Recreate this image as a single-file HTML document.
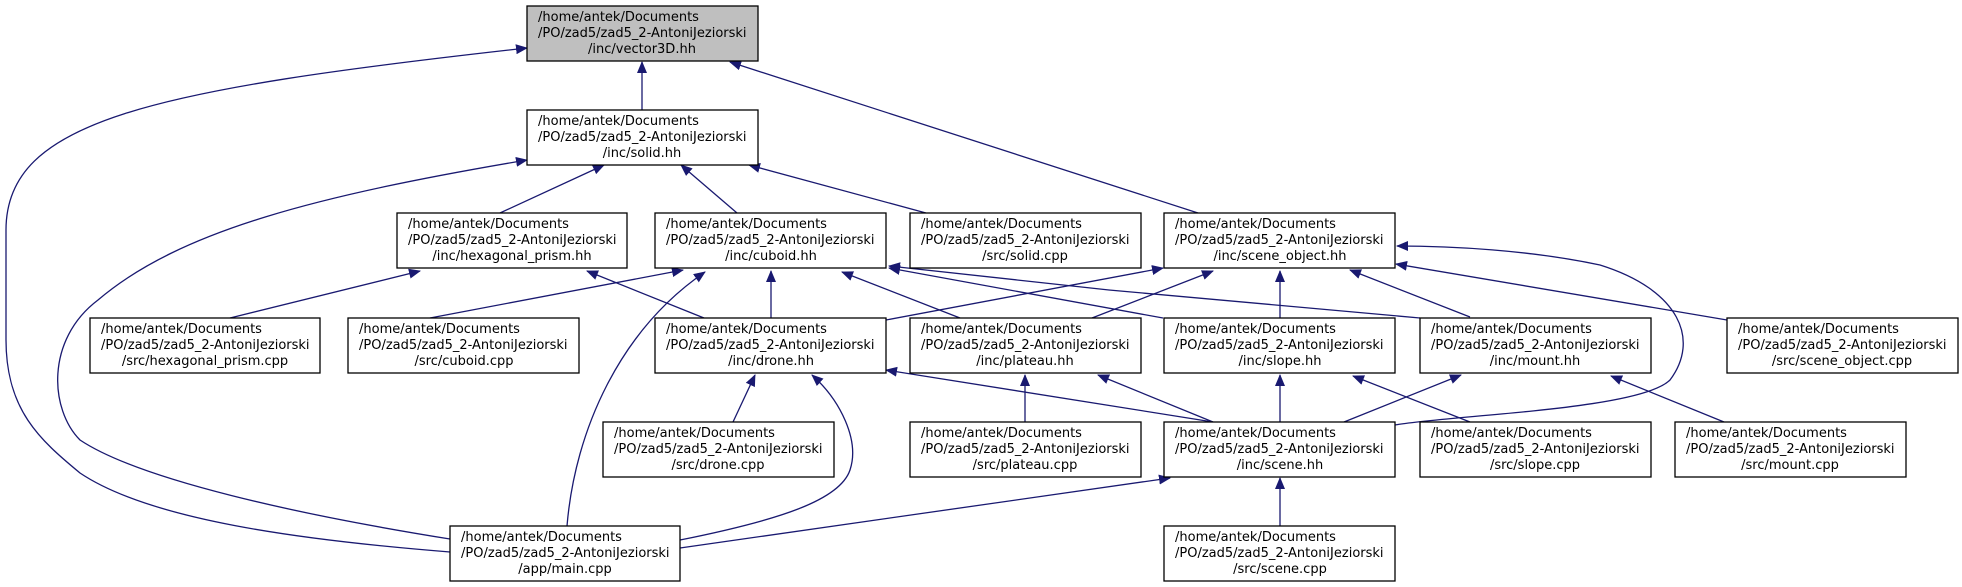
<!DOCTYPE html>
<html><head><meta charset="utf-8"><style>
body{margin:0;background:#fff;width:1962px;height:587px;overflow:hidden}
svg{position:absolute;left:0;top:0}
text{font-family:"DejaVu Sans","Liberation Sans",sans-serif;font-size:13px;fill:#000}
</style></head><body>
<svg width="1962" height="587" viewBox="0 0 1962 587">
<defs><marker id="a" markerWidth="12" markerHeight="10" refX="11" refY="5" orient="auto" markerUnits="userSpaceOnUse"><path d="M0,0 L12,5 L0,10 z" fill="#191970"/></marker></defs>
<g fill="none" stroke="#191970" stroke-width="1.3" marker-end="url(#a)">
<path d="M642,110 L642,62"/>
<path d="M450,552 C300,540 150,520 80,473 C40,440 6,410 6,340 L6,230 C6,120 150,90 527,48"/>
<path d="M1198,213 L730,62"/>
<path d="M500,213 L604,165"/>
<path d="M737,213 L681,165"/>
<path d="M926,213 L749,165"/>
<path d="M450,539 C300,515 140,480 80,440 C50,410 45,340 98,300 C180,230 320,195 527,160"/>
<path d="M230,318 L420,271"/>
<path d="M430,318 L683,270"/>
<path d="M704,318 L587,271"/>
<path d="M771,318 L771,271"/>
<path d="M960,318 L842,272"/>
<path d="M1163,318 L889,268"/>
<path d="M1420,318 L1109,290 L889,266"/>
<path d="M567,526 C575,430 620,330 705,272"/>
<path d="M886,320 L1163,268"/>
<path d="M1092,318 L1213,271"/>
<path d="M1280,318 L1280,271"/>
<path d="M1470,317 L1350,270"/>
<path d="M1727,320 L1396,264"/>
<path d="M1395,425 C1450,415 1640,410 1670,380 C1700,340 1680,290 1600,265 C1530,250 1450,246 1397,246"/>
<path d="M733,422 L755,375"/>
<path d="M680,540 C780,520 840,500 850,470 C860,440 840,400 812,375"/>
<path d="M1213,422 L886,370"/>
<path d="M1213,422 L1098,375"/>
<path d="M1025,422 L1025,375"/>
<path d="M1280,422 L1280,375"/>
<path d="M1470,422 L1353,376"/>
<path d="M1344,422 L1461,375"/>
<path d="M1724,422 L1611,376"/>
<path d="M680,548 L1170,478"/>
<path d="M1280,526 L1280,478"/>
</g>
<g stroke="#000" stroke-width="1.3">
<rect x="527" y="6" width="231" height="55" fill="#bfbfbf"/>
<rect x="527" y="110" width="231" height="55" fill="#fff"/>
<rect x="397" y="213" width="230" height="55" fill="#fff"/>
<rect x="655" y="213" width="231" height="55" fill="#fff"/>
<rect x="910" y="213" width="231" height="55" fill="#fff"/>
<rect x="1164" y="213" width="231" height="55" fill="#fff"/>
<rect x="90" y="318" width="230" height="55" fill="#fff"/>
<rect x="348" y="318" width="231" height="55" fill="#fff"/>
<rect x="655" y="318" width="231" height="55" fill="#fff"/>
<rect x="910" y="318" width="231" height="55" fill="#fff"/>
<rect x="1164" y="318" width="231" height="55" fill="#fff"/>
<rect x="1420" y="318" width="231" height="55" fill="#fff"/>
<rect x="1727" y="318" width="231" height="55" fill="#fff"/>
<rect x="603" y="422" width="231" height="55" fill="#fff"/>
<rect x="910" y="422" width="231" height="55" fill="#fff"/>
<rect x="1164" y="422" width="231" height="55" fill="#fff"/>
<rect x="1420" y="422" width="231" height="55" fill="#fff"/>
<rect x="1675" y="422" width="231" height="55" fill="#fff"/>
<rect x="450" y="526" width="230" height="55" fill="#fff"/>
<rect x="1164" y="526" width="231" height="55" fill="#fff"/>
</g>
<g>
<text x="538" y="21">/home/antek/Documents</text><text x="538" y="37">/PO/zad5/zad5_2-AntoniJeziorski</text><text x="642" y="53" text-anchor="middle">/inc/vector3D.hh</text>
<text x="538" y="125">/home/antek/Documents</text><text x="538" y="141">/PO/zad5/zad5_2-AntoniJeziorski</text><text x="642" y="157" text-anchor="middle">/inc/solid.hh</text>
<text x="408" y="228">/home/antek/Documents</text><text x="408" y="244">/PO/zad5/zad5_2-AntoniJeziorski</text><text x="512" y="260" text-anchor="middle">/inc/hexagonal_prism.hh</text>
<text x="666" y="228">/home/antek/Documents</text><text x="666" y="244">/PO/zad5/zad5_2-AntoniJeziorski</text><text x="771" y="260" text-anchor="middle">/inc/cuboid.hh</text>
<text x="921" y="228">/home/antek/Documents</text><text x="921" y="244">/PO/zad5/zad5_2-AntoniJeziorski</text><text x="1025" y="260" text-anchor="middle">/src/solid.cpp</text>
<text x="1175" y="228">/home/antek/Documents</text><text x="1175" y="244">/PO/zad5/zad5_2-AntoniJeziorski</text><text x="1280" y="260" text-anchor="middle">/inc/scene_object.hh</text>
<text x="101" y="333">/home/antek/Documents</text><text x="101" y="349">/PO/zad5/zad5_2-AntoniJeziorski</text><text x="205" y="365" text-anchor="middle">/src/hexagonal_prism.cpp</text>
<text x="359" y="333">/home/antek/Documents</text><text x="359" y="349">/PO/zad5/zad5_2-AntoniJeziorski</text><text x="464" y="365" text-anchor="middle">/src/cuboid.cpp</text>
<text x="666" y="333">/home/antek/Documents</text><text x="666" y="349">/PO/zad5/zad5_2-AntoniJeziorski</text><text x="771" y="365" text-anchor="middle">/inc/drone.hh</text>
<text x="921" y="333">/home/antek/Documents</text><text x="921" y="349">/PO/zad5/zad5_2-AntoniJeziorski</text><text x="1025" y="365" text-anchor="middle">/inc/plateau.hh</text>
<text x="1175" y="333">/home/antek/Documents</text><text x="1175" y="349">/PO/zad5/zad5_2-AntoniJeziorski</text><text x="1280" y="365" text-anchor="middle">/inc/slope.hh</text>
<text x="1431" y="333">/home/antek/Documents</text><text x="1431" y="349">/PO/zad5/zad5_2-AntoniJeziorski</text><text x="1535" y="365" text-anchor="middle">/inc/mount.hh</text>
<text x="1738" y="333">/home/antek/Documents</text><text x="1738" y="349">/PO/zad5/zad5_2-AntoniJeziorski</text><text x="1842" y="365" text-anchor="middle">/src/scene_object.cpp</text>
<text x="614" y="437">/home/antek/Documents</text><text x="614" y="453">/PO/zad5/zad5_2-AntoniJeziorski</text><text x="718" y="469" text-anchor="middle">/src/drone.cpp</text>
<text x="921" y="437">/home/antek/Documents</text><text x="921" y="453">/PO/zad5/zad5_2-AntoniJeziorski</text><text x="1025" y="469" text-anchor="middle">/src/plateau.cpp</text>
<text x="1175" y="437">/home/antek/Documents</text><text x="1175" y="453">/PO/zad5/zad5_2-AntoniJeziorski</text><text x="1280" y="469" text-anchor="middle">/inc/scene.hh</text>
<text x="1431" y="437">/home/antek/Documents</text><text x="1431" y="453">/PO/zad5/zad5_2-AntoniJeziorski</text><text x="1535" y="469" text-anchor="middle">/src/slope.cpp</text>
<text x="1686" y="437">/home/antek/Documents</text><text x="1686" y="453">/PO/zad5/zad5_2-AntoniJeziorski</text><text x="1790" y="469" text-anchor="middle">/src/mount.cpp</text>
<text x="461" y="541">/home/antek/Documents</text><text x="461" y="557">/PO/zad5/zad5_2-AntoniJeziorski</text><text x="565" y="573" text-anchor="middle">/app/main.cpp</text>
<text x="1175" y="541">/home/antek/Documents</text><text x="1175" y="557">/PO/zad5/zad5_2-AntoniJeziorski</text><text x="1280" y="573" text-anchor="middle">/src/scene.cpp</text>
</g>
</svg>
</body></html>
